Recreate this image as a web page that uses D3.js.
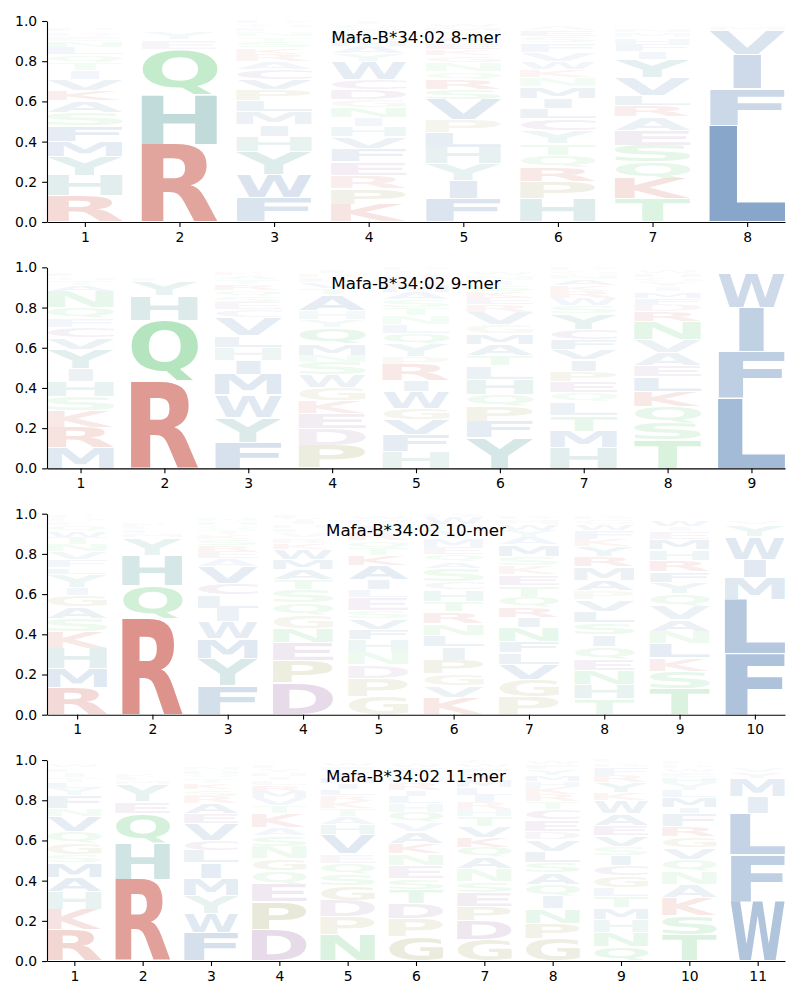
<!DOCTYPE html>
<html><head><meta charset="utf-8">
<script src="https://cdn.jsdelivr.net/npm/d3@7"></script>
<style>body{margin:0;background:#fff}</style>
</head><body><svg id="chart" width="800" height="1000"></svg>
<script>
const titles = ["Mafa-B*34:02 8-mer","Mafa-B*34:02 9-mer","Mafa-B*34:02 10-mer","Mafa-B*34:02 11-mer"];
const yTicks = [0,0.2,0.4,0.6,0.8,1.0];

// letter probabilities per position, listed bottom to top
const logo8 = [
 {R:.13,H:.10,Y:.095,M:.075,F:.075,S:.065,A:.06,K:.05,V:.055,I:.045,T:.04,Q:.04,L:.035,N:.03,E:.025,D:.02,P:.02,G:.015,W:.01,C:.01},
 {R:.385,H:.245,Q:.225,E:.045,Y:.035,F:.01,K:.01,M:.008,L:.007,S:.006,N:.005,T:.005,W:.004,I:.004},
 {F:.12,W:.115,Y:.115,H:.075,I:.06,M:.065,L:.055,P:.055,V:.05,C:.05,A:.04,R:.035,K:.03,S:.03,T:.025,N:.025,E:.02,G:.02,D:.015},
 {K:.086,P:.08,R:.066,E:.066,F:.066,V:.058,H:.05,I:.046,N:.05,G:.04,D:.05,C:.05,W:.09,Y:.04,A:.035,M:.03,L:.03,S:.025,Q:.02,T:.02},
 {F:.115,I:.09,Y:.083,H:.083,L:.075,P:.063,V:.1,S:.05,R:.05,Q:.04,N:.045,G:.035,K:.03,E:.03,A:.03,T:.025,M:.02,W:.015,D:.01,C:.01},
 {H:.115,P:.085,R:.07,Q:.06,T:.06,Y:.065,C:.06,L:.05,I:.05,M:.06,N:.045,K:.04,W:.04,V:.045,F:.045,S:.03,E:.03,A:.025,G:.015,D:.01},
 {T:.115,K:.1,Q:.083,S:.083,E:.075,A:.066,R:.058,L:.05,V:.09,Y:.09,I:.04,F:.035,H:.03,M:.025,N:.02,G:.015,P:.01,W:.01,D:.005},
 {L:.48,F:.18,I:.17,V:.12,M:.02,Y:.01,W:.008,A:.006,T:.004}
];
const logo9 = [
 {M:.105,R:.1,K:.083,S:.07,H:.075,I:.066,Y:.095,V:.06,C:.05,F:.045,Q:.055,N:.08,A:.03,T:.025,G:.02,L:.015,W:.01,E:.01,P:.005,D:.005},
 {R:.435,Q:.3,H:.125,Y:.07,E:.015,F:.01,K:.01,M:.008,N:.007,W:.006,S:.005,T:.005,L:.004},
 {F:.13,Y:.125,W:.11,M:.1,I:.07,H:.066,L:.06,V:.09,C:.04,E:.035,S:.03,Q:.03,R:.03,T:.025,A:.02,K:.015,N:.01,G:.01,P:.005},
 {P:.115,D:.08,E:.075,K:.066,G:.063,W:.063,S:.063,N:.035,M:.055,Q:.08,Y:.04,H:.045,A:.08,T:.03,V:.03,L:.025,R:.02,I:.015,F:.01,C:.005},
 {H:.085,F:.08,V:.075,G:.058,W:.08,I:.058,R:.08,P:.04,Y:.06,Q:.05,L:.045,N:.045,T:.04,S:.04,A:.035,M:.035,K:.03,E:.025,C:.02,D:.015},
 {Y:.15,F:.08,P:.075,Q:.06,H:.075,L:.066,T:.05,A:.058,M:.05,G:.045,V:.06,R:.04,E:.035,K:.03,S:.03,I:.025,N:.025,W:.02,C:.01,D:.01},
 {H:.1,M:.083,T:.075,L:.066,Q:.046,E:.055,P:.053,I:.055,V:.05,F:.05,C:.05,Y:.075,S:.04,W:.035,R:.035,K:.03,A:.03,N:.025,G:.02,D:.015},
 {T:.14,S:.083,Q:.083,K:.075,L:.073,E:.058,A:.065,V:.065,N:.09,R:.05,D:.035,F:.03,M:.03,I:.025,Y:.025,G:.02,H:.02,W:.015,P:.01,C:.008},
 {L:.35,F:.23,I:.22,W:.17,M:.01,Y:.008,V:.006,A:.004}
];
const logo10 = [
 {R:.135,M:.095,H:.1,K:.083,S:.066,A:.058,G:.058,I:.04,Y:.066,L:.033,F:.04,V:.04,N:.035,T:.035,W:.03,Q:.03,E:.02,D:.015,P:.015,C:.01},
 {R:.475,Q:.165,H:.15,Y:.085,M:.02,F:.02,E:.015,K:.015,W:.01,N:.01,S:.01,T:.008,L:.007,I:.005},
 {F:.145,Y:.137,M:.1,W:.083,I:.07,L:.066,C:.058,V:.085,A:.04,E:.035,R:.03,S:.03,K:.025,T:.025,Q:.02,H:.02,N:.015,G:.01,P:.01,D:.005},
 {D:.155,P:.11,E:.09,N:.07,G:.066,Q:.058,S:.066,T:.05,A:.05,M:.05,W:.05,K:.03,R:.025,V:.025,L:.02,H:.02,I:.015,Y:.015,F:.015,C:.01},
 {G:.09,P:.09,D:.066,N:.06,H:.066,F:.05,V:.05,S:.04,E:.066,L:.04,I:.05,A:.07,K:.05,T:.035,Q:.035,R:.04,Y:.04,M:.025,W:.02,C:.01},
 {K:.083,V:.06,G:.058,P:.07,I:.066,L:.058,N:.058,R:.058,T:.05,H:.058,C:.04,S:.066,A:.033,Q:.035,E:.035,M:.045,Y:.045,F:.025,W:.035,D:.02},
 {P:.09,G:.083,V:.078,L:.058,F:.055,N:.07,I:.05,R:.05,Q:.05,T:.06,E:.05,K:.045,S:.045,M:.06,A:.035,Y:.035,W:.03,H:.025,D:.02,C:.01},
 {T:.08,H:.07,N:.07,E:.055,Q:.063,I:.058,S:.06,L:.058,V:.058,P:.045,A:.05,M:.066,R:.05,Y:.05,K:.035,F:.045,W:.03,G:.025,D:.02,C:.01},
 {T:.13,S:.083,K:.066,L:.07,N:.06,A:.06,V:.066,Q:.06,Y:.058,F:.05,R:.058,H:.05,M:.05,E:.04,I:.025,W:.03,G:.015,P:.01,D:.005,C:.004},
 {F:.3,L:.27,M:.11,I:.09,W:.11,Y:.06,V:.02,A:.01,H:.01,T:.005,K:.005,C:.005}
];
const logo11 = [
 {R:.155,K:.1,H:.088,A:.073,M:.071,S:.04,G:.058,Q:.058,V:.075,N:.04,F:.066,Y:.035,L:.03,T:.025,I:.025,E:.02,W:.015,C:.01,D:.01,P:.005},
 {R:.405,H:.18,Q:.15,E:.06,Y:.085,M:.02,F:.015,K:.015,N:.01,S:.01,W:.01,D:.01,A:.01,T:.008,L:.007,I:.005},
 {F:.14,W:.095,Y:.09,M:.085,I:.075,L:.06,C:.05,V:.085,E:.05,A:.05,R:.035,S:.035,K:.03,T:.025,Q:.02,H:.02,N:.02,G:.015,P:.01,D:.005},
 {D:.155,P:.135,E:.088,Q:.066,G:.06,N:.06,S:.053,A:.04,K:.066,T:.04,V:.035,M:.035,R:.03,L:.025,I:.02,H:.02,Y:.02,F:.02,W:.01,C:.01},
 {N:.13,P:.09,D:.08,G:.07,S:.06,Q:.053,E:.046,V:.095,H:.05,A:.04,T:.04,K:.035,R:.03,L:.03,I:.03,M:.03,Y:.03,F:.025,W:.02,C:.01},
 {G:.12,P:.09,D:.075,T:.07,S:.053,E:.066,N:.06,K:.05,A:.058,V:.045,Q:.05,H:.045,L:.035,I:.03,R:.04,M:.025,Y:.025,F:.025,W:.02,C:.015},
 {G:.105,D:.095,P:.07,E:.071,S:.053,N:.063,A:.058,Q:.05,K:.05,V:.055,T:.05,H:.035,R:.035,I:.035,L:.04,M:.04,Y:.03,F:.025,W:.02,C:.02},
 {G:.11,P:.075,N:.07,I:.06,Q:.06,A:.06,S:.05,L:.053,V:.058,D:.04,E:.055,C:.05,T:.04,R:.035,K:.035,H:.03,M:.03,Y:.03,F:.025,W:.02},
 {Q:.07,N:.07,H:.066,M:.058,T:.055,L:.045,G:.06,C:.05,I:.05,S:.046,V:.053,E:.05,A:.058,W:.066,K:.04,Y:.05,R:.035,F:.04,D:.02,P:.015},
 {T:.13,S:.095,K:.088,A:.066,N:.066,Q:.06,V:.058,G:.053,R:.05,F:.063,I:.033,M:.05,L:.035,Y:.035,H:.03,E:.025,W:.02,D:.015,P:.015,C:.01},
 {W:.295,F:.23,L:.205,I:.085,M:.09,Y:.03,V:.025,A:.01,K:.01,T:.005,C:.005,H:.005}
];
const panels = [logo8, logo9, logo10, logo11];

const groupLetters = ["AVILMFW","HY","RK","QNST","DEC","PG"];
const groupColors = ["#3d6ea9","#4d9996","#c74f41","#4ac160","#9a69a2","#97974f"];
function colorOf(aa){ for(let i=0;i<groupLetters.length;i++) if(groupLetters[i].includes(aa)) return groupColors[i]; return "#888"; }

const svg = d3.select("#chart");
const FPX = 100;
const cv = document.createElement("canvas");
const ctx = cv.getContext("2d");
ctx.font = `bold ${FPX}px "DejaVu Sans"`;
function ink(ch){ const m = ctx.measureText(ch); return {l:m.actualBoundingBoxLeft, r:m.actualBoundingBoxRight, a:m.actualBoundingBoxAscent, d:m.actualBoundingBoxDescent}; }
const eInk = ink("E"); const eW = eInk.l + eInk.r;

const L = 47, R = 785, H = 201, GAP = 246.35, TOP0 = 21;

panels.forEach((data, i) => {
  const top = TOP0 + i*GAP, bottom = top + H;
  const n = data.length;
  const x = d3.scaleLinear().domain([0.6, n + 0.4]).range([L, R]);
  const y = d3.scaleLinear().domain([0, 1]).range([bottom, top]);
  const g = svg.append("g");
  data.forEach((pos, j) => {
    const entries = Object.entries(pos);
    const total = d3.sum(entries, d => d[1]);
    let cum = 0;
    entries.forEach(([aa, v]) => {
      const p = v / total;
      const y0 = y(cum), y1 = y(cum + p); cum += p;
      const bl = x(j + 1 - 0.4), br = x(j + 1 + 0.4);
      const w = br - bl;
      const h = (y0 - y1) - 1.2;
      if (h <= 0.3) return;
      const m = ink(aa); const iw = m.l + m.r, ih = m.a + m.d;
      const sx = Math.min(w / iw, w / eW), sy = h / ih;
      const left = bl + (w - iw * sx) / 2;
      g.append("text").text(aa)
        .attr("font-family", "DejaVu Sans").attr("font-weight", "bold").attr("font-size", FPX)
        .attr("transform", `translate(${left},${y1 + 0.6}) scale(${sx},${sy}) translate(${m.l},${m.a})`)
        .attr("fill", colorOf(aa)).attr("fill-opacity", Math.min(1, 1.15 * Math.pow(p, 0.85)));
    });
  });
  const ya = g.append("g").attr("transform", `translate(${L},0)`)
    .call(d3.axisLeft(y).tickValues(yTicks).tickFormat(d3.format(".1f")).tickSize(4.9).tickSizeOuter(0).tickPadding(4.9));
  const xa = g.append("g").attr("transform", `translate(0,${bottom})`)
    .call(d3.axisBottom(x).tickValues(d3.range(1, n + 1)).tickFormat(d3.format("d")).tickSize(4.9).tickSizeOuter(0).tickPadding(4.9));
  [ya, xa].forEach(a => {
    a.attr("font-family", "DejaVu Sans").attr("font-size", 13.9);
    a.selectAll("path,line").attr("stroke", "#000").attr("stroke-width", 1.1);
    a.selectAll("text").attr("fill", "#000");
  });
  g.append("text").attr("x", (L + R) / 2).attr("y", top + 22).attr("text-anchor", "middle")
    .attr("font-family", "DejaVu Sans").attr("font-size", 16.7).attr("fill", "#000").text(titles[i]);
});
</script></body></html>
